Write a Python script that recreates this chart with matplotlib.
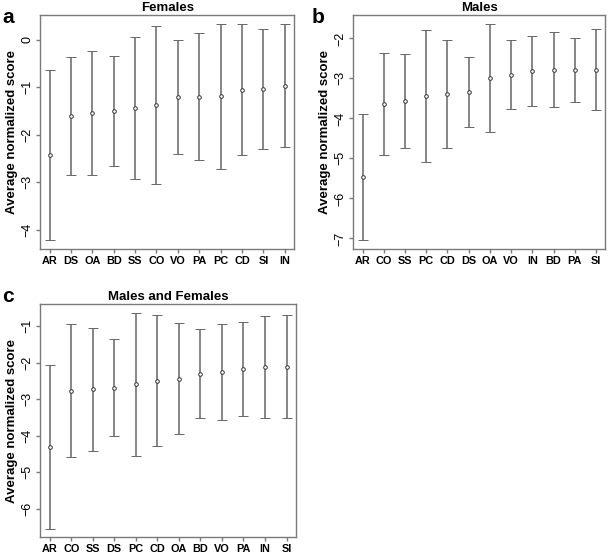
import matplotlib
matplotlib.use("Agg")
import matplotlib.pyplot as plt

plt.rcParams["font.family"] = ["Liberation Sans", "DejaVu Sans"]

# panel a: females
fem_labels = ["AR", "DS", "OA", "BD", "SS", "CO", "VO", "PA", "PC", "CD", "SI", "IN"]
fem_mean = [-2.43, -1.60, -1.54, -1.51, -1.44, -1.38, -1.21, -1.20, -1.19, -1.05, -1.04, -0.97]
fem_upper = [-0.63, -0.36, -0.24, -0.35, 0.06, 0.30, 0.00, 0.14, 0.34, 0.34, 0.22, 0.33]
fem_lower = [-4.22, -2.84, -2.85, -2.67, -2.93, -3.05, -2.41, -2.54, -2.72, -2.43, -2.30, -2.27]

# panel b: males
male_labels = ["AR", "CO", "SS", "PC", "CD", "DS", "OA", "VO", "IN", "BD", "PA", "SI"]
male_mean = [-5.47, -3.64, -3.56, -3.45, -3.40, -3.34, -3.00, -2.91, -2.82, -2.78, -2.78, -2.78]
male_upper = [-3.89, -2.36, -2.40, -1.79, -2.05, -2.47, -1.63, -2.05, -1.95, -1.84, -1.98, -1.76]
male_lower = [-7.04, -4.91, -4.74, -5.10, -4.75, -4.21, -4.34, -3.77, -3.70, -3.72, -3.58, -3.79]

# panel c: males and females
all_labels = ["AR", "CO", "SS", "DS", "PC", "CD", "OA", "BD", "VO", "PA", "IN", "SI"]
all_mean = [-4.30, -2.77, -2.73, -2.69, -2.59, -2.50, -2.45, -2.30, -2.25, -2.18, -2.12, -2.11]
all_upper = [-2.07, -0.95, -1.05, -1.34, -0.63, -0.70, -0.92, -1.08, -0.94, -0.87, -0.72, -0.69]
all_lower = [-6.54, -4.59, -4.41, -4.01, -4.54, -4.27, -3.95, -3.50, -3.57, -3.47, -3.50, -3.50]

FRAME = "#7a7a7a"
BAR = "#666666"


def draw_panel(ax, labels, mean, upper, lower, title, yticks):
    x = list(range(1, len(labels) + 1))
    yerr = [[m - lo for m, lo in zip(mean, lower)],
            [up - m for m, up in zip(mean, upper)]]
    ax.errorbar(x, mean, yerr=yerr, fmt="o", ms=2.6, mfc="white", mec="#333333",
                mew=0.7, ecolor=BAR, elinewidth=1.1, capsize=3.5, capthick=1.1)
    # R style: 4% padding around the data range
    lo_all, hi_all = min(lower), max(upper)
    pad = (hi_all - lo_all) * 0.04
    ax.set_ylim(lo_all - pad, hi_all + pad)
    ax.set_xlim(0.56, len(labels) + 0.44)
    ax.set_xticks(x)
    ax.set_xticklabels(labels, fontsize=7.8, fontweight="bold")
    ax.set_yticks(yticks)
    ax.set_yticklabels([str(t).replace("-", "\u2212") for t in yticks],
                       rotation=90, va="center", fontsize=9)
    ax.set_ylabel("Average normalized score", fontsize=9.5, fontweight="bold",
                  labelpad=2)
    ax.set_title(title, fontsize=9.5, fontweight="bold", pad=3)
    for s in ax.spines.values():
        s.set_color(FRAME)
        s.set_linewidth(1.0)
    ax.tick_params(axis="both", color=FRAME, length=3, width=1.0, pad=2)


fig = plt.figure(figsize=(6.09, 5.55), dpi=100)
ax_a = fig.add_axes([0.066, 0.552, 0.417, 0.421])
ax_b = fig.add_axes([0.580, 0.552, 0.414, 0.421])
ax_c = fig.add_axes([0.066, 0.032, 0.420, 0.420])

draw_panel(ax_a, fem_labels, fem_mean, fem_upper, fem_lower, "Females",
           [0, -1, -2, -3, -4])
draw_panel(ax_b, male_labels, male_mean, male_upper, male_lower, "Males",
           [-2, -3, -4, -5, -6, -7])
draw_panel(ax_c, all_labels, all_mean, all_upper, all_lower, "Males and Females",
           [-1, -2, -3, -4, -5, -6])

# panel letters
fig.text(0.004, 0.985, "a", fontsize=15, fontweight="bold", va="top")
fig.text(0.512, 0.985, "b", fontsize=15, fontweight="bold", va="top")
fig.text(0.004, 0.482, "c", fontsize=15, fontweight="bold", va="top")

fig.savefig("out.png", dpi=100)
